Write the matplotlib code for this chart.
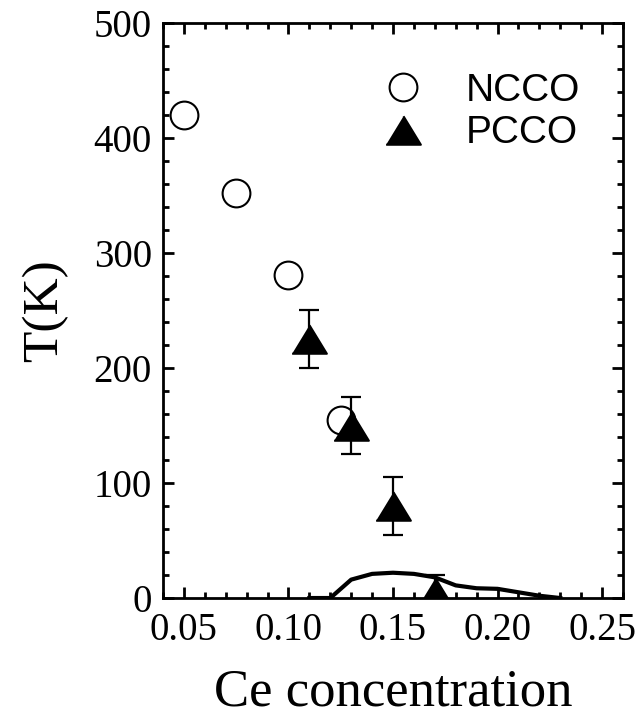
import matplotlib
matplotlib.use('Agg')
import matplotlib.pyplot as plt
from matplotlib.ticker import MultipleLocator

# NCCO (open circles)
ncco_x = [0.05, 0.075, 0.10, 0.125]
ncco_t = [420, 352, 281, 155]

# PCCO (filled triangles with error bars)
pcco_x = [0.11, 0.13, 0.15, 0.17]
pcco_t = [225, 150, 80, 5]
pcco_err = [25, 25, 25, 15]

# superconducting dome
tc_x = [0.11, 0.12, 0.13, 0.14, 0.15, 0.16, 0.17, 0.18, 0.19, 0.20, 0.21, 0.22, 0.23]
tc_t = [0, 0, 16, 21, 22, 21, 18, 11, 8.5, 8, 5, 2, 0]

tri = [(-1, -0.82), (1, -0.82), (0, 0.82)]

fig = plt.figure(figsize=(6.4, 7.22), dpi=100)
ax = fig.add_axes([0.2547, 0.1717, 0.7187, 0.7965])

ax.plot(tc_x, tc_t, color='black', linewidth=3, solid_joinstyle='round', zorder=2)

ax.plot(ncco_x, ncco_t, linestyle='none', marker='o', markersize=20,
        markerfacecolor='none', markeredgecolor='black', markeredgewidth=1.5,
        label='NCCO', zorder=3)

ax.errorbar(pcco_x, pcco_t, yerr=pcco_err, fmt='none', ecolor='black',
            elinewidth=1.6, capsize=7, capthick=1.6, zorder=3)
ax.plot(pcco_x, pcco_t, linestyle='none', marker=tri, markersize=25,
        color='black', markeredgewidth=1.5, markeredgecolor='black',
        label='PCCO', zorder=4)

ax.set_xlim(0.04, 0.26)
ax.set_ylim(0, 500)
ax.xaxis.set_major_locator(MultipleLocator(0.05))
ax.xaxis.set_minor_locator(MultipleLocator(0.01))
ax.yaxis.set_major_locator(MultipleLocator(100))
ax.yaxis.set_minor_locator(MultipleLocator(20))
ax.set_xticks([0.05, 0.10, 0.15, 0.20, 0.25])
ax.set_xticklabels(['0.05', '0.10', '0.15', '0.20', '0.25'])

ax.tick_params(which='both', direction='in', top=True, right=True, width=2)
ax.tick_params(which='major', length=8, labelsize=28)
ax.tick_params(axis='x', which='major', pad=10)
ax.tick_params(axis='y', which='major', pad=8)
ax.tick_params(which='minor', length=4.5)
for lab in ax.get_xticklabels() + ax.get_yticklabels():
    lab.set_fontfamily('Liberation Serif')
for s in ax.spines.values():
    s.set_linewidth(2)

ax.set_xlabel('Ce concentration', fontsize=38, family='Liberation Serif', labelpad=14)
ax.set_ylabel('T(K)', fontsize=37, family='Liberation Serif', labelpad=18)

leg = ax.legend(loc='upper right', bbox_to_anchor=(0.94, 0.94), frameon=False,
                prop={'family': 'Liberation Sans', 'size': 28},
                handletextpad=1.0, labelspacing=0.16, handlelength=1.2,
                borderaxespad=0)

fig.savefig('out.png', dpi=100)
